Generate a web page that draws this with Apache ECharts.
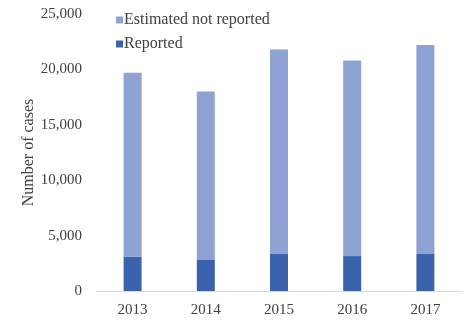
<!DOCTYPE html>
<html><head><meta charset="utf-8">
<script src="https://cdn.jsdelivr.net/npm/echarts@6/dist/echarts.min.js"></script>
<style>html,body{margin:0;padding:0;background:#fff}#c{width:476px;height:327px}</style>
</head><body><div id="c"></div>
<script>
const categories = ['2013','2014','2015','2016','2017'];
const reported = [3100, 2800, 3350, 3150, 3350];
const notReported = [16600, 15200, 18450, 17650, 18850];
const yTicks = [0, 5000, 10000, 15000, 20000, 25000];

const chart = echarts.init(document.getElementById('c'));
const font = 'Liberation Serif, Times New Roman, serif';
chart.setOption({
  animation: false,
  textStyle: {fontFamily: font},
  grid: {left: 96, right: 14, top: 14, bottom: 36},
  legend: {
    orient: 'vertical', left: 111, top: 7, itemGap: 8,
    itemWidth: 7, itemHeight: 7, icon: 'rect',
    data: ['Estimated not reported', 'Reported'],
    textStyle: {fontFamily: font, fontSize: 16, color: '#404040', padding: [0,0,0,-4]}
  },
  xAxis: {
    type: 'category', data: categories,
    axisLine: {lineStyle: {color: '#d9d9d9'}},
    axisTick: {show: false},
    axisLabel: {fontFamily: font, fontSize: 15, color: '#404040', margin: 12}
  },
  yAxis: {
    type: 'value', min: 0, max: 25000, interval: 5000,
    name: 'Number of cases', nameLocation: 'middle', nameGap: 59, nameMoveOverlap: false,
    nameTextStyle: {fontFamily: font, fontSize: 16, color: '#404040'},
    splitLine: {show: false}, axisLine: {show: false}, axisTick: {show: false},
    axisLabel: {fontFamily: font, fontSize: 15, color: '#404040', margin: 14,
      formatter: v => yTicks.includes(v) ? v.toLocaleString('en-US') : ''}
  },
  series: [
    {name: 'Reported', type: 'bar', stack: 't', data: reported, barWidth: 18,
     itemStyle: {color: '#3b62ad'}},
    {name: 'Estimated not reported', type: 'bar', stack: 't', data: notReported, barWidth: 18,
     itemStyle: {color: '#8fa2d4'}}
  ]
});
</script></body></html>
